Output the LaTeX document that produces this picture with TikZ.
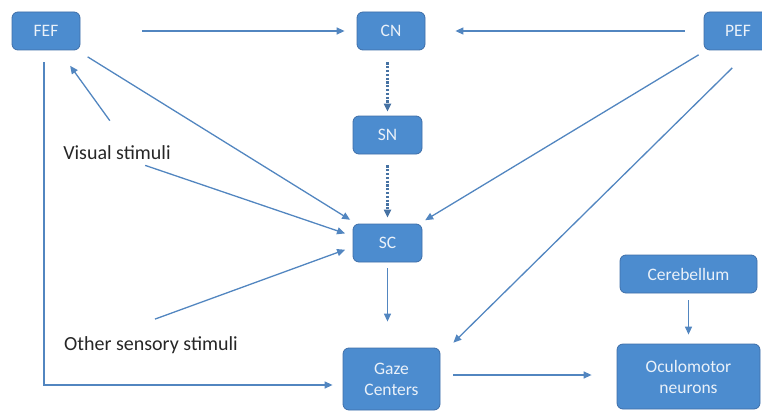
\documentclass[tikz,border=0pt]{standalone}
\usepackage{fontspec}
\setmainfont{Carlito}
\usepackage{tikz}
\usetikzlibrary{arrows.meta,positioning}
\definecolor{boxfill}{RGB}{76,140,207}
\definecolor{boxline}{RGB}{62,110,168}
\definecolor{linkcol}{RGB}{82,134,192}
\tikzset{
	area/.style={shape=rectangle, draw=boxline, fill=boxfill, rounded corners=6pt, line width=0.8pt,
		text=white!88!boxfill, font=\fontsize{17.5}{21}\selectfont, align=center, inner sep=0pt},
	stim/.style={font=\fontsize{20}{22}\selectfont, text=black!85, inner sep=0pt},
	link/.style={draw=linkcol, line width=1.3pt, -{Triangle[length=8pt,width=7pt]}},
	dots/.style={link, draw=linkcol!85!black, dash pattern=on 2.2pt off 1.6pt, line width=2.2pt}
}

\begin{document}
\begin{tikzpicture}[x=1pt,y=-1pt]
	\useasboundingbox (0,0) rectangle (762,412);
	\path (46,31) node (fef) [area, minimum width=68pt, minimum height=38pt] {FEF}
		  (391,31) node (cn) [area, minimum width=68pt, minimum height=38pt] {CN}
		  (738,31) node (pef) [area, minimum width=68pt, minimum height=38pt] {PEF}
		  (387.5,135) node (sn) [area, minimum width=69pt, minimum height=38pt] {SN}
		  (387.5,243) node (sc) [area, minimum width=69pt, minimum height=38pt] {SC}
		  (688.5,274) node (cer) [area, minimum width=137pt, minimum height=38pt] {Cerebellum}
		  (391.5,379) node (gaze) [area, minimum width=97pt, minimum height=62pt] {Gaze\\Centers}
		  (688.5,376.5) node (ocu) [area, minimum width=143pt, minimum height=65pt] {Oculomotor\\neurons}
		  (117,153) node (vis) [stim] {Visual stimuli}
		  (151,345) node (oth) [stim] {Other sensory stimuli};
	\draw[link, shorten <=62pt, shorten >=12pt] (fef) -- (cn);
	\draw[link, shorten <=19pt, shorten >=30pt] (pef) -- (cn);
	\draw[dots, shorten <=12pt, shorten >=4pt] (cn.south -| sn.north) -- (sn.north);
	\draw[dots, shorten <=11pt, shorten >=6pt] (sn.south) -- (sc.north);
	\draw[link, shorten <=6pt, shorten >=26pt] (sc.south) -- (sc.south |- gaze.north);
	\draw[link, shorten <=7pt, shorten >=9pt] (cer.south) -- (cer.south |- ocu.north);
	\draw[link, shorten <=13pt, shorten >=25pt] ([yshift=4pt]gaze.east) -- ([yshift=4pt]gaze.east -| ocu.west);
	\draw[link, shorten <=12pt, shorten >=10pt] ([xshift=-2pt]fef.south) |- ([yshift=-6pt]gaze.west);
	\draw[link, shorten <=49pt, shorten >=44pt] (fef.center) -- (sc.center);
	\draw[link, shorten <=46pt, shorten >=44pt] (pef.center) -- (sc.center);
	\draw[link, shorten <=25pt, shorten >=7pt] ([xshift=12pt]pef.south) -- ([xshift=8pt]gaze.north east);
	\draw[link, shorten <=31pt, shorten >=19pt] ([xshift=11pt]vis.north) -- ([xshift=13pt]fef.south);
	\draw[link, shorten <=16pt, shorten >=8pt] ([xshift=13pt]vis.south) -- ([yshift=7pt]sc.west);
	\draw[link, shorten <=50pt, shorten >=8pt] ([xshift=-43pt]oth.north) -- ([yshift=-4pt]sc.west);
\end{tikzpicture}
\end{document}
